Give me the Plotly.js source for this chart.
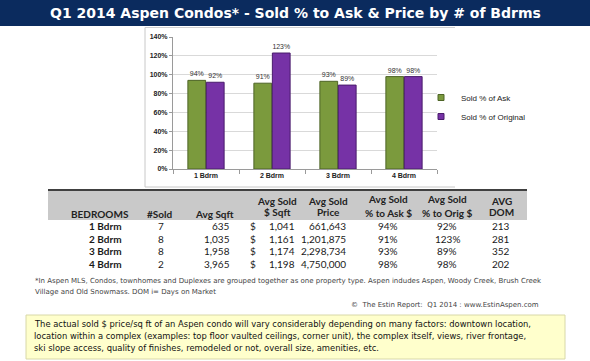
<!DOCTYPE html>
<html>
<head>
<meta charset="utf-8">
<script src="https://cdn.plot.ly/plotly-3.0.1.min.js"></script>
<style>html,body{margin:0;padding:0;background:#fff;}#chart{width:590px;height:361px;}</style>
</head>
<body>
<div id="chart"></div>
<script>
// ---------- data ----------
const categories = ['1 Bdrm', '2 Bdrm', '3 Bdrm', '4 Bdrm'];
const soldPctAsk = [94, 91, 93, 98];
const soldPctOrig = [92, 123, 89, 98];
const numSold = [7, 8, 8, 2];
const avgSqft = [635, 1035, 1958, 3965];
const avgSoldPerSqft = [1041, 1161, 1174, 1198];
const avgSoldPrice = [661643, 1201875, 2298734, 4750000];
const avgDom = [213, 281, 352, 202];
const yTickVals = [0, 0.2, 0.4, 0.6, 0.8, 1.0, 1.2, 1.4];
const seriesNames = ['Sold % of Ask', 'Sold % of Original'];
const titleText = 'Q1 2014 Aspen Condos* - Sold % to Ask &amp; Price by # of Bdrms';
const footnote1 = '*In Aspen MLS, Condos, townhomes and Duplexes are grouped together as one property type. Aspen indudes Aspen, Woody Creek, Brush Creek';
const footnote2 = 'Village and Old Snowmass. DOM i= Days on Market';
const copyright = '\u00a9  The Estin Report:  Q1 2014 : www.EstinAspen.com';
const noteLines = [
  'The actual sold $ price/sq ft of an Aspen condo will vary considerably depending on many factors: downtown location,',
  'location within a complex (examples: top floor vaulted ceilings, corner unit), the complex itself, views, river frontage,',
  'ski slope access, quality of finishes, remodeled or not, overall size, amenities, etc.'
];

// ---------- helpers ----------
const W = 590, H = 361;
const px = x => x / W;
const py = y => 1 - y / H;
const fmt = n => n.toLocaleString('en-US');

const ask = soldPctAsk.map(v => v / 100);
const orig = soldPctOrig.map(v => v / 100);
const colAsk = '#7b9a3d', colOrig = '#7632a6';

const traces = [
  {
    type: 'bar', name: seriesNames[0], x: categories, y: ask, showlegend: false,
    marker: {color: colAsk, line: {color: '#4e6426', width: 1}},
    text: soldPctAsk.map(v => v + '%'), textposition: 'outside', cliponaxis: false,
    textfont: {family: 'Liberation Sans, Arial', size: 7, color: '#333'}
  },
  {
    type: 'bar', name: seriesNames[1], x: categories, y: orig, showlegend: false,
    marker: {color: colOrig, line: {color: '#4a1c6c', width: 1}},
    text: soldPctOrig.map(v => v + '%'), textposition: 'outside', cliponaxis: false,
    textfont: {family: 'Liberation Sans, Arial', size: 7, color: '#333'}
  },
  // legend entries (small square keys, as in the reference)
  {type: 'scatter', mode: 'markers', name: seriesNames[0], x: [null], y: [null],
   marker: {symbol: 'square', size: 6, color: colAsk, line: {color: '#4e6426', width: 1}}},
  {type: 'scatter', mode: 'markers', name: seriesNames[1], x: [null], y: [null],
   marker: {symbol: 'square', size: 6, color: colOrig, line: {color: '#4a1c6c', width: 1}}}
];

const shapes = [
  {type: 'rect', xref: 'paper', yref: 'paper', x0: 0, x1: 1, y0: py(26), y1: 1, fillcolor: '#0b2b5e', line: {width: 0}, layer: 'below'},
  {type: 'line', xref: 'paper', yref: 'paper', x0: px(145), x1: px(455), y0: py(27.5), y1: py(27.5), line: {color: '#d0d0d0', width: 1}},
  {type: 'line', xref: 'paper', yref: 'paper', x0: px(145), x1: px(145), y0: py(27.5), y1: py(187), line: {color: '#c8c8c8', width: 1}},
  {type: 'line', xref: 'paper', yref: 'paper', x0: px(145), x1: px(455), y0: py(187), y1: py(187), line: {color: '#c8c8c8', width: 1}},
  {type: 'rect', xref: 'paper', yref: 'paper', x0: px(48), x1: px(527), y0: py(220), y1: py(190), fillcolor: '#c9c9c9', line: {width: 0}, layer: 'below'},
  {type: 'line', xref: 'paper', yref: 'paper', x0: px(48), x1: px(527), y0: py(190), y1: py(190), line: {color: '#404040', width: 2}},
  {type: 'rect', xref: 'paper', yref: 'paper', x0: px(26), x1: px(565), y0: py(359), y1: py(315), fillcolor: '#ffffcc', line: {color: '#d8d8a8', width: 1}, layer: 'below'}
];

const annotations = [];
function ann(text, x, y, opts) {
  annotations.push(Object.assign({
    text: text, xref: 'paper', yref: 'paper', x: px(x), y: py(y),
    xanchor: 'center', yanchor: 'middle', showarrow: false,
    font: {family: 'Lato, Liberation Sans', size: 10, color: '#1a1a1a'}
  }, opts || {}));
}

ann(titleText, 295, 13, {font: {family: 'DejaVu Sans', size: 14, color: '#ffffff', weight: 'bold'}});

const hf = {family: 'Lato, Liberation Sans', size: 10, color: '#222', weight: 'bold'};
ann('BEDROOMS', 100, 214, {font: hf});
ann('#Sold', 160, 214, {font: hf});
ann('Avg Sqft', 215, 214, {font: hf});
ann('Avg Sold', 277, 201, {font: hf});
ann('$ Sqft', 277, 212, {font: hf});
ann('Avg Sold', 328, 201, {font: hf});
ann('Price', 328, 212, {font: hf});
ann('Avg Sold', 388, 199, {font: hf});
ann('% to Ask $', 388, 213, {font: hf});
ann('Avg Sold', 447, 199, {font: hf});
ann('% to Orig $', 447, 213, {font: hf});
ann('AVG', 501, 201, {font: hf});
ann('DOM', 501, 212, {font: hf});

const rowY = [226, 238.5, 251, 263.5];
const rf = {family: 'Lato, Liberation Sans', size: 10, color: '#1a1a1a'};
categories.forEach((c, i) => {
  const y = rowY[i];
  ann(c, 105, y, {font: Object.assign({}, rf, {weight: 'bold'})});
  ann(String(numSold[i]), 161, y, {font: rf});
  ann(fmt(avgSqft[i]), 232, y, {xanchor: 'right', font: rf});
  ann('$', 253, y, {font: rf});
  ann(fmt(avgSoldPerSqft[i]), 297, y, {xanchor: 'right', font: rf});
  ann(fmt(avgSoldPrice[i]), 348, y, {xanchor: 'right', font: rf});
  ann(soldPctAsk[i] + '%', 388, y, {font: rf});
  ann(soldPctOrig[i] + '%', 447, y, {font: rf});
  ann(String(avgDom[i]), 501, y, {font: rf});
});

const ff = {family: 'DejaVu Sans', size: 7, color: '#444'};
ann(footnote1, 33, 281, {xanchor: 'left', font: ff});
ann(footnote2, 33, 292, {xanchor: 'left', font: ff});
ann(copyright, 541, 305, {xanchor: 'right', font: ff});

const nf = {family: 'DejaVu Sans', size: 8.4, color: '#111'};
noteLines.forEach((t, i) => ann(t, 32, 324 + i * 12, {xanchor: 'left', font: nf}));

const layout = {
  width: W, height: H,
  margin: {l: 0, r: 0, t: 0, b: 0},
  paper_bgcolor: '#ffffff', plot_bgcolor: '#ffffff',
  barmode: 'group', bargap: 0.44, bargroupgap: 0.04,
  showlegend: true,
  legend: {
    x: px(421), y: py(83), xanchor: 'left', yanchor: 'top',
    font: {family: 'Liberation Sans, Arial', size: 8, color: '#222'},
    bgcolor: 'rgba(0,0,0,0)', itemwidth: 30
  },
  xaxis: {
    domain: [px(173), px(437)],
    showline: true, linecolor: '#9a9a9a', linewidth: 1,
    ticks: 'outside', tickson: 'boundaries', ticklen: 4, tickcolor: '#9a9a9a',
    tickfont: {family: 'Liberation Sans, Arial', size: 7, color: '#222', weight: 'bold'},
    showgrid: false, fixedrange: true
  },
  yaxis: {
    domain: [py(169), py(37)],
    range: [0, 1.4], tickvals: yTickVals, tickformat: '.0%',
    showline: true, linecolor: '#9a9a9a', linewidth: 1,
    ticks: 'outside', ticklen: 3, tickcolor: '#9a9a9a',
    gridcolor: '#d9d9d9', gridwidth: 1, zeroline: false,
    tickfont: {family: 'Liberation Sans, Arial', size: 7, color: '#222', weight: 'bold'},
    fixedrange: true
  },
  shapes: shapes,
  annotations: annotations
};

Plotly.newPlot('chart', traces, layout, {displayModeBar: false, staticPlot: true});
</script>
</body>
</html>
